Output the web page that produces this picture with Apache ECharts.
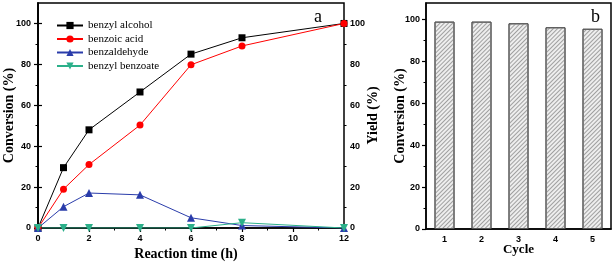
<!DOCTYPE html>
<html><head><meta charset="utf-8">
<script src="https://cdn.jsdelivr.net/npm/echarts@6/dist/echarts.min.js"></script>
<style>html,body{margin:0;padding:0;background:#fff}#c{width:614px;height:262px}</style>
</head><body><div id="c"></div>
<script>
// ---- data ----
const timeHours = [0, 1, 2, 4, 6, 8, 12];
const benzylAlcohol = [0, 29.5, 48, 66.5, 85, 93, 100];
const benzoicAcid = [0, 19, 31, 50.3, 79.8, 89, 100];
const benzaldehyde = [0, 10.4, 17.1, 16.2, 5.0, 1.2, 0];
const benzylBenzoate = [0, 0, 0, 0, 0, 2.6, 0];
const seriesNames = ['benzyl alcohol', 'benzoic acid', 'benzaldehyde', 'benzyl benzoate'];
const cycles = ['1', '2', '3', '4', '5'];
const cycleConversion = [99.1, 99.1, 98.3, 96.4, 95.7];
const yTicks = [0, 20, 40, 60, 80, 100];
const yMinorTicks = [10, 30, 50, 70, 90];
const xTicks = [0, 2, 4, 6, 8, 10, 12];
const xMinorTicks = [1, 3, 5, 7, 9, 11];

const pair = (xs, ys) => xs.map((x, i) => [x, ys[i]]);
const serif = 'Liberation Serif';
const sans = 'Liberation Sans';
const axisLineStyle = { color: '#000', width: 1.5 };
const tickLbl = { color: '#000', fontFamily: sans, fontWeight: 'bold', fontSize: 9 };
const nameStyle = { color: '#000', fontFamily: serif, fontWeight: 'bold', fontSize: 14 };

const chart = echarts.init(document.getElementById('c'));
const colors = ['#000000', '#ff0000', '#2a3caa', '#2cb08a'];
const symbols = ['rect', 'circle', 'triangle', 'triangle'];
const sizes = [7, 7, 8, 8];
const rot = [0, 0, 0, 180];
const dataSets = [benzylAlcohol, benzoicAcid, benzaldehyde, benzylBenzoate];

const lineSeries = seriesNames.map((n, i) => ({
  name: n, type: 'line', xAxisIndex: 0, yAxisIndex: 0,
  data: pair(timeHours, dataSets[i]),
  symbol: symbols[i], symbolSize: sizes[i], symbolRotate: rot[i],
  lineStyle: { color: colors[i], width: 1 },
  itemStyle: { color: colors[i] },
  emphasis: { disabled: true }, animation: false
}));

// minor-tick-only axis helper
function minorAxis(base, values) {
  return Object.assign({}, base, {
    axisLine: { show: false }, axisLabel: { show: false }, splitLine: { show: false },
    axisTick: { show: true, length: 2.5, lineStyle: { color: '#000', width: 1 }, customValues: values },
    name: ''
  });
}

chart.setOption({
  animation: false,
  grid: [
    { left: 38, right: 270, top: 3, bottom: 34, show: true, borderColor: '#000', borderWidth: 1.5, outerBoundsMode: 'none', containLabel: false },
    { left: 426, right: 3, top: 3, bottom: 33, show: true, borderColor: '#000', borderWidth: 1.5, outerBoundsMode: 'none', containLabel: false }
  ],
  legend: {
    orient: 'vertical', left: 51, top: 15, itemWidth: 26, itemHeight: 9, itemGap: 2.5,
    textStyle: { fontFamily: serif, fontSize: 11, color: '#000' },
    data: seriesNames
  },
  title: [
    { text: 'a', left: 309, top: 3, textStyle: { fontFamily: serif, fontWeight: 'normal', fontSize: 18, color: '#000' } },
    { text: 'b', left: 586, top: 3, textStyle: { fontFamily: serif, fontWeight: 'normal', fontSize: 18, color: '#000' } }
  ],
  xAxis: [
    { type: 'value', gridIndex: 0, position: 'bottom', min: 0, max: 12, interval: 2,
      name: 'Reaction time (h)', nameLocation: 'middle', nameGap: 19.5, nameMoveOverlap: false,
      nameTextStyle: Object.assign({}, nameStyle, { padding: [0, 10, 0, 0] }),
      axisLine: { lineStyle: axisLineStyle },
      axisTick: { inside: false, length: 4, lineStyle: { color: '#000', width: 1.2 }, customValues: xTicks },
      axisLabel: { ...tickLbl, margin: 6, customValues: xTicks },
      splitLine: { show: false } },
    { type: 'category', gridIndex: 1, data: cycles, boundaryGap: true,
      name: 'Cycle', nameLocation: 'middle', nameGap: 14, nameMoveOverlap: false, nameTextStyle: { ...nameStyle, fontSize: 13 },
      axisLine: { lineStyle: axisLineStyle },
      axisTick: { length: 4, lineStyle: { color: '#000', width: 1.2 } },
      axisLabel: { ...tickLbl, margin: 6 },
      splitLine: { show: false } },
    minorAxis({ type: 'value', gridIndex: 0, position: 'bottom', min: 0, max: 12 }, xMinorTicks)
  ],
  yAxis: [
    { type: 'value', gridIndex: 0, position: 'left', min: 0, max: 110, interval: 20,
      name: 'Conversion (%)', nameLocation: 'middle', nameGap: 22, nameMoveOverlap: false, nameTextStyle: nameStyle,
      axisLine: { show: true, lineStyle: axisLineStyle },
      axisTick: { show: true, length: 4, lineStyle: { color: '#000', width: 1.2 }, customValues: yTicks },
      axisLabel: { ...tickLbl, margin: 7, customValues: yTicks },
      splitLine: { show: false } },
    { type: 'value', gridIndex: 0, position: 'right', min: 0, max: 110, interval: 20,
      name: 'Yield (%)', nameLocation: 'middle', nameGap: 22, nameRotate: 90, nameMoveOverlap: false, nameTextStyle: nameStyle,
      axisLine: { show: true, lineStyle: axisLineStyle },
      axisTick: { show: true, length: 4, lineStyle: { color: '#000', width: 1.2 }, customValues: yTicks },
      axisLabel: { ...tickLbl, margin: 6, customValues: yTicks },
      splitLine: { show: false } },
    { type: 'value', gridIndex: 1, position: 'left', min: 0, max: 108, interval: 20,
      name: 'Conversion (%)', nameLocation: 'middle', nameGap: 19, nameMoveOverlap: false, nameTextStyle: nameStyle,
      axisLine: { show: true, lineStyle: axisLineStyle },
      axisTick: { show: true, length: 4, lineStyle: { color: '#000', width: 1.2 }, customValues: yTicks },
      axisLabel: { ...tickLbl, margin: 6, customValues: yTicks },
      splitLine: { show: false } },
    minorAxis({ type: 'value', gridIndex: 0, position: 'left', min: 0, max: 110 }, yMinorTicks),
    minorAxis({ type: 'value', gridIndex: 0, position: 'right', min: 0, max: 110 }, yMinorTicks),
    minorAxis({ type: 'value', gridIndex: 1, position: 'left', min: 0, max: 108 }, yMinorTicks)
  ],
  series: [
    ...lineSeries,
    { name: 'Conversion', type: 'bar', xAxisIndex: 1, yAxisIndex: 2, data: cycleConversion, barWidth: 20,
      itemStyle: { color: '#eeeeee', borderColor: '#555', borderWidth: 1,
        decal: { symbol: 'rect', symbolSize: 1, dashArrayX: [[1, 0]], dashArrayY: [1, 2], rotation: -Math.PI / 4, color: '#a0a0a0' } },
      emphasis: { disabled: true } }
  ]
});
</script></body></html>
